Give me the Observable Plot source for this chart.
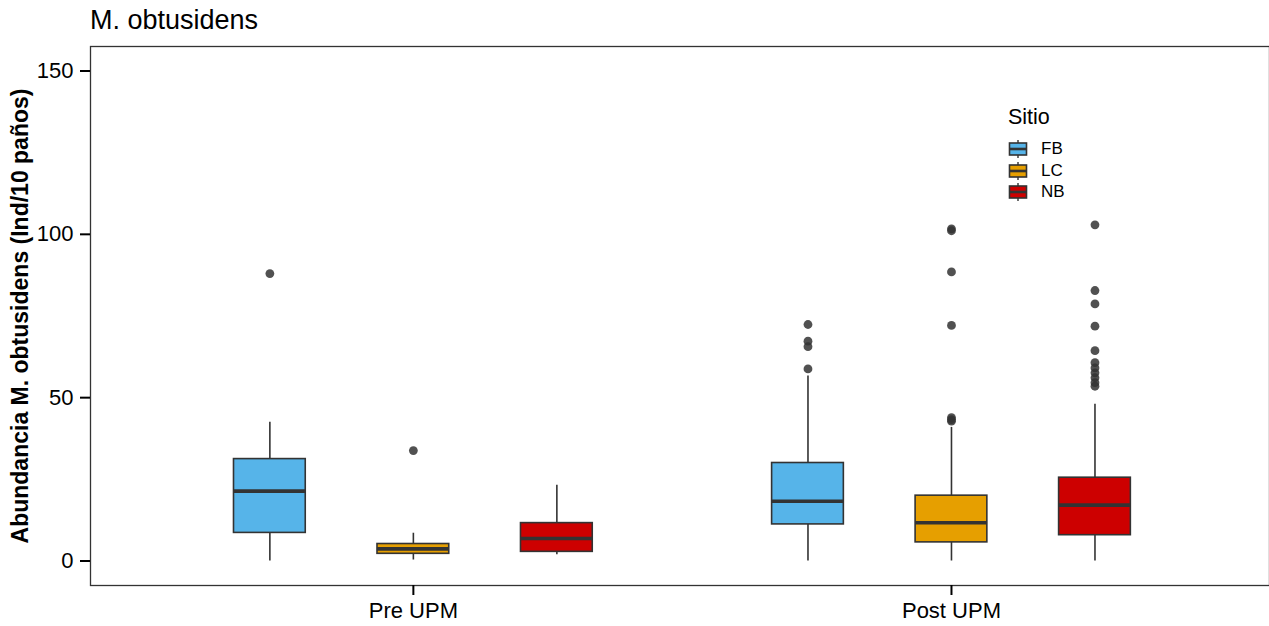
<!DOCTYPE html>
<html>
<head>
<meta charset="utf-8">
<script src="https://cdn.jsdelivr.net/npm/d3@7"></script>
<script src="https://cdn.jsdelivr.net/npm/@observablehq/plot@0.6"></script>
<style>
  body { margin: 0; background: #fff; font-family: "Liberation Sans", Arial, sans-serif; }
  #wrap { position: relative; width: 1269px; height: 626px; overflow: hidden; background: #fff; }
  #title { height: 40px; line-height: 40px; padding-left: 90px; font-size: 27px; color: #000; box-sizing: border-box; white-space: nowrap; }
  #legend { position: absolute; left: 1008px; top: 0; font-family: "Liberation Sans", Arial, sans-serif; color: #000; }
  #legend .lt { position: absolute; left: 0; top: 107px; font-size: 21.5px; line-height: 21.5px; white-space: nowrap; }
  #legend .row { position: absolute; left: 0; height: 22px; display: flex; align-items: center; white-space: nowrap; }
  #legend .row span { font-size: 17px; margin-left: 13px; }
  g[aria-label="y-axis label"] text { font-weight: bold; font-size: 23px; }
</style>
</head>
<body>
<div id="wrap">
  <div id="title">M. obtusidens</div>
  <div id="chart"></div>
  <div id="legend"></div>
</div>
<script>
// ---- Data ----
const periods = ["Pre UPM", "Post UPM"];
const sites = ["FB", "LC", "NB"];
const siteColors = ["#56B4E9", "#E69F00", "#CD0000"];
const yTicks = [0, 50, 100, 150];

// one entry per box
const boxPeriod   = ["Pre UPM", "Pre UPM", "Pre UPM", "Post UPM", "Post UPM", "Post UPM"];
const boxSite     = ["FB", "LC", "NB", "FB", "LC", "NB"];
const whiskerLow  = [0.0, 0.3, 1.9, 0.0, 0.0, 0.0];
const q1          = [8.6, 2.2, 2.8, 11.2, 5.7, 7.9];
const median      = [21.4, 3.7, 6.9, 18.3, 11.7, 17.1];
const q3          = [31.2, 5.2, 11.6, 30.0, 20.0, 25.5];
const whiskerHigh = [42.5, 8.5, 23.2, 56.6, 40.9, 48.0];

// outliers
const outPeriod = [
  "Pre UPM", "Pre UPM",
  "Post UPM", "Post UPM", "Post UPM", "Post UPM",
  "Post UPM", "Post UPM", "Post UPM", "Post UPM", "Post UPM", "Post UPM", "Post UPM",
  "Post UPM", "Post UPM", "Post UPM", "Post UPM", "Post UPM", "Post UPM", "Post UPM", "Post UPM", "Post UPM", "Post UPM", "Post UPM"
];
const outSite = [
  "FB", "LC",
  "FB", "FB", "FB", "FB",
  "LC", "LC", "LC", "LC", "LC", "LC", "LC",
  "NB", "NB", "NB", "NB", "NB", "NB", "NB", "NB", "NB", "NB", "NB"
];
const outValue = [
  88.0, 33.8,
  72.4, 67.3, 65.6, 58.8,
  101.7, 101.1, 88.5, 72.1, 43.9, 43.3, 42.8,
  102.9, 82.8, 78.7, 71.9, 64.4, 60.7, 59.1, 57.6, 56.1, 54.6, 53.5
];

// ---- Build tables ----
const dodge = 0.8 / sites.length;
const halfBox = 0.4 / sites.length / 2;
const xPos = (p, s) => periods.indexOf(p) + 1 + (sites.indexOf(s) - (sites.length - 1) / 2) * dodge;

const boxes = boxPeriod.map((p, i) => ({
  period: p, site: boxSite[i], x: xPos(p, boxSite[i]),
  lo: whiskerLow[i], q1: q1[i], med: median[i], q3: q3[i], hi: whiskerHigh[i]
}));
const outliers = outValue.map((v, i) => ({ x: xPos(outPeriod[i], outSite[i]), value: v }));

const ink = "#333333";

const plot = Plot.plot({
  width: 1269,
  height: 586,
  marginTop: 6,
  marginBottom: 41,
  marginLeft: 90,
  marginRight: 0,
  style: { fontFamily: "Liberation Sans, Arial, sans-serif", fontSize: "22px", color: "#000", background: "#fff" },
  x: { type: "linear", domain: [0.4, 2.591], axis: null },
  y: { domain: [-7.5, 157.5], axis: null },
  color: { domain: sites, range: siteColors },
  marks: [
    Plot.frame({ stroke: ink, strokeWidth: 1.3 }),
    Plot.axisY({
      ticks: yTicks, tickSize: 10, tickPadding: 7, stroke: "#000", strokeWidth: 2, fontSize: 22,
      label: null
    }),
    Plot.axisY({
      ticks: [], tickSize: 0,
      label: "Abundancia M. obtusidens (Ind/10 paños)", labelAnchor: "center", labelOffset: 79, labelArrow: false
    }),
    Plot.axisX({
      ticks: [1, 2], tickFormat: (d) => periods[Math.round(d) - 1], tickSize: 10, tickPadding: 7,
      stroke: "#000", strokeWidth: 2, fontSize: 22, label: null
    }),
    Plot.ruleX(boxes, { x: "x", y1: "lo", y2: "q1", stroke: ink, strokeWidth: 1.6 }),
    Plot.ruleX(boxes, { x: "x", y1: "q3", y2: "hi", stroke: ink, strokeWidth: 1.6 }),
    Plot.rect(boxes, {
      x1: (d) => d.x - halfBox, x2: (d) => d.x + halfBox, y1: "q1", y2: "q3",
      fill: "site", stroke: ink, strokeWidth: 1.6
    }),
    Plot.ruleY(boxes, {
      x1: (d) => d.x - halfBox, x2: (d) => d.x + halfBox, y: "med", stroke: ink, strokeWidth: 3.6
    }),
    Plot.dot(outliers, { x: "x", y: "value", r: 4.4, fill: ink, fillOpacity: 0.85, stroke: "none" })
  ]
});
document.getElementById("chart").appendChild(plot);

// ---- Legend ----
const legend = d3.select("#legend");
legend.append("div").attr("class", "lt").text("Sitio");
sites.forEach((s, i) => {
  const row = legend.append("div").attr("class", "row").style("top", (138 + i * 21.7) + "px");
  const svg = row.append("svg").attr("width", 20).attr("height", 20);
  svg.append("line").attr("x1", 10).attr("x2", 10).attr("y1", 1).attr("y2", 19)
    .attr("stroke", ink).attr("stroke-width", 1.4);
  svg.append("rect").attr("x", 1.5).attr("y", 4).attr("width", 17).attr("height", 12)
    .attr("fill", siteColors[i]).attr("stroke", ink).attr("stroke-width", 1.6);
  svg.append("line").attr("x1", 1.5).attr("x2", 18.5).attr("y1", 10).attr("y2", 10)
    .attr("stroke", ink).attr("stroke-width", 2.6);
  row.append("span").text(s);
});
</script>
</body>
</html>
